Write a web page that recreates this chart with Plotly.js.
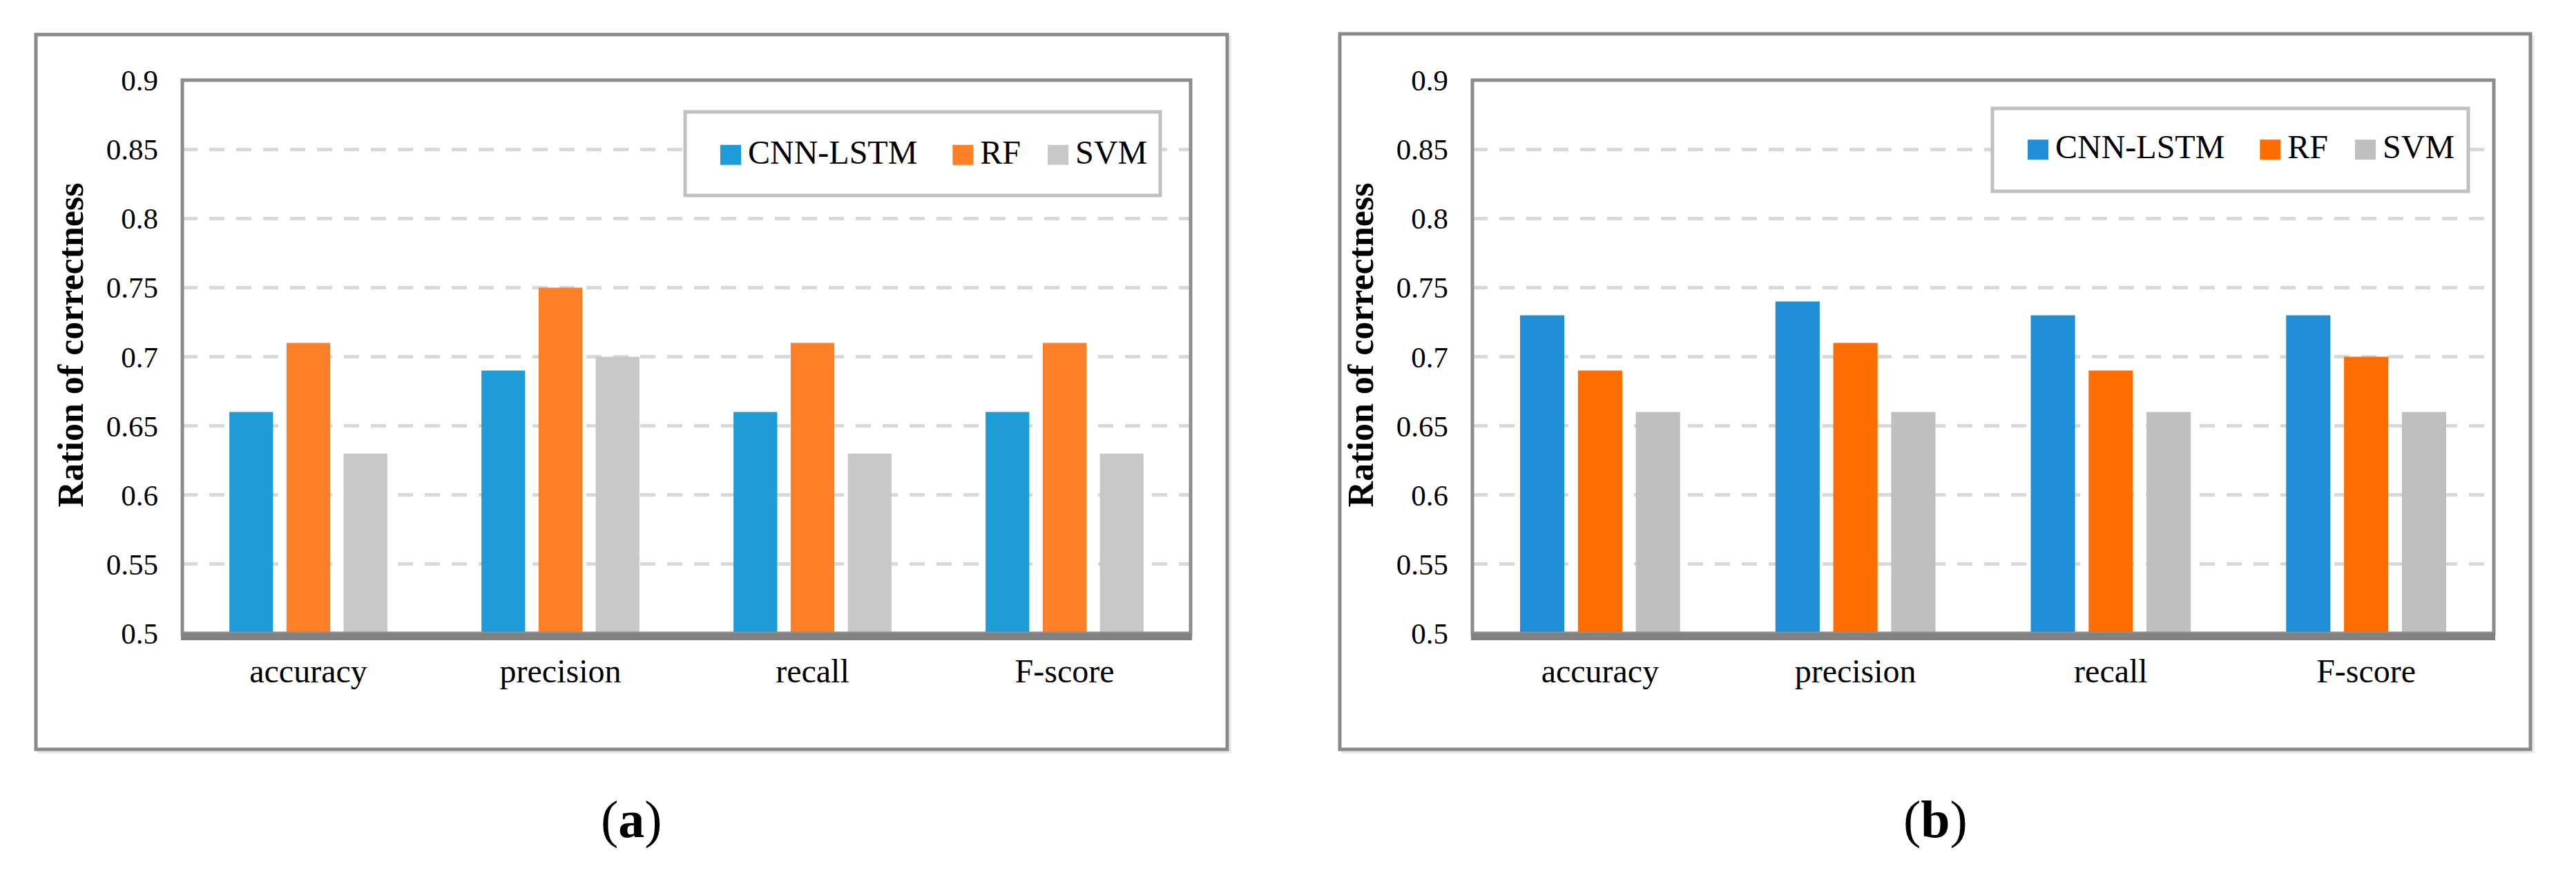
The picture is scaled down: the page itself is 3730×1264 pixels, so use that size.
<!DOCTYPE html>
<html><head><meta charset="utf-8">
<script src="https://cdn.plot.ly/plotly-3.0.1.min.js"></script>
<style>html,body{margin:0;padding:0;background:#fff}</style>
</head><body>
<div id="chart" style="width:3730px;height:1264px"></div>
<script>
// ---- data ----
const categories = ['accuracy', 'precision', 'recall', 'F-score'];
const seriesNames = ['CNN-LSTM', 'RF', 'SVM'];
const cnnA = [0.66, 0.69, 0.66, 0.66];
const rfA  = [0.71, 0.75, 0.71, 0.71];
const svmA = [0.63, 0.70, 0.63, 0.63];
const cnnB = [0.73, 0.74, 0.73, 0.73];
const rfB  = [0.69, 0.71, 0.69, 0.70];
const svmB = [0.66, 0.66, 0.66, 0.66];
const yTickVals = [0.5, 0.55, 0.6, 0.65, 0.7, 0.75, 0.8, 0.85, 0.9];
const yTickText = ['0.5', '0.55', '0.6', '0.65', '0.7', '0.75', '0.8', '0.85', '0.9'];
const yTitle = 'Ration of correctness';
const panelLabels = ['a', 'b'];

// ---- styles ----
const W = 3730, H = 1264;
const px = v => v / W;
const py = v => 1 - v / H;
const colorsA = ['#1E9CD8', '#FF7F27', '#C8C8C8'];
const colorsB = ['#208FD8', '#FF6D00', '#BFBFBF'];
const namePad = ['\u00a0\u00a0\u00a0', '\u00a0\u00a0', ''];
const FONT = '"Liberation Serif", "Times New Roman", serif';

const seriesA = [cnnA, rfA, svmA];
const seriesB = [cnnB, rfB, svmB];
const traces = [];
seriesA.forEach((vals, i) => traces.push({
  type: 'bar', x: categories, y: vals, name: seriesNames[i] + namePad[i],
  xaxis: 'x', yaxis: 'y', legend: 'legend',
  marker: {color: colorsA[i], line: {width: 0}}
}));
seriesB.forEach((vals, i) => traces.push({
  type: 'bar', x: categories, y: vals, name: seriesNames[i] + namePad[i],
  xaxis: 'x2', yaxis: 'y2', legend: 'legend2',
  marker: {color: colorsB[i], line: {width: 0}}
}));

const panels = [
  {outer: [52, 50, 1777, 1085], frame: [264, 116, 1724, 917], leg: [992, 162, 1680, 283], legX: 1033, legY: 218.5},
  {outer: [1940, 49, 3664, 1085], frame: [2132, 116, 3611, 917], leg: [2885, 157, 3574, 277], legX: 2926, legY: 211}
];

function xAxis(p, anchor) {
  return {
    domain: [px(p.frame[0]), px(p.frame[2])], anchor: anchor, type: 'category',
    showline: false, ticks: '', showgrid: false, zeroline: false, automargin: false,
    tickfont: {size: 48, family: FONT, color: '#000'}, ticklabelstandoff: 22
  };
}
function yAxis(p, anchor) {
  return {
    domain: [py(p.frame[3]), py(p.frame[1])], anchor: anchor, range: [0.5, 0.9],
    tickvals: yTickVals, ticktext: yTickText, ticks: '', automargin: false,
    tickfont: {size: 43, family: FONT, color: '#000'}, ticklabelstandoff: 34,
    showgrid: true, gridcolor: '#d9d9d9', gridwidth: 5, griddash: '22px,17px',
    zeroline: false, showline: false,
    title: {text: yTitle, font: {size: 52, family: FONT, color: '#000', weight: 'bold'}, standoff: 16}
  };
}

const shapes = [];
const annotations = [];
panels.forEach((p, k) => {
  shapes.push({type: 'rect', xref: 'paper', yref: 'paper', x0: px(p.outer[0] + 4), x1: px(p.outer[2] + 4),
    y0: py(p.outer[3] + 4), y1: py(p.outer[1] + 4), line: {color: '#ececec', width: 4}, layer: 'below'});
  shapes.push({type: 'rect', xref: 'paper', yref: 'paper', x0: px(p.outer[0]), x1: px(p.outer[2]),
    y0: py(p.outer[3]), y1: py(p.outer[1]), line: {color: '#8a8a8a', width: 5}, fillcolor: '#ffffff', layer: 'below'});
  shapes.push({type: 'rect', xref: 'paper', yref: 'paper', x0: px(p.frame[0]), x1: px(p.frame[2]),
    y0: py(p.frame[3]), y1: py(p.frame[1]), line: {color: '#8c8c8c', width: 5}, layer: 'above'});
  shapes.push({type: 'line', xref: 'paper', yref: 'paper', x0: px(p.frame[0] - 2), x1: px(p.frame[2] + 2),
    y0: py(p.frame[3] + 5), y1: py(p.frame[3] + 5), line: {color: '#808080', width: 10}, layer: 'above'});
  shapes.push({type: 'rect', xref: 'paper', yref: 'paper', x0: px(p.leg[0]), x1: px(p.leg[2]),
    y0: py(p.leg[3]), y1: py(p.leg[1]), line: {color: '#c0c0c0', width: 5}, fillcolor: '#ffffff', layer: 'above'});
  annotations.push({xref: 'paper', yref: 'paper', x: px((p.outer[0] + p.outer[2]) / 2), y: py(1186),
    xanchor: 'center', yanchor: 'middle', showarrow: false,
    text: '(<b>' + panelLabels[k] + '</b>)', font: {size: 76, family: FONT, color: '#000'}});
});

function legend(p) {
  return {orientation: 'h', xref: 'paper', yref: 'paper', x: px(p.legX), y: py(p.legY),
    xanchor: 'left', yanchor: 'middle', bgcolor: 'rgba(0,0,0,0)', borderwidth: 0,
    itemwidth: 40, traceorder: 'normal', font: {size: 48, family: FONT, color: '#000'}};
}

const layout = {
  width: W, height: H, margin: {l: 0, r: 0, t: 0, b: 0, autoexpand: false},
  paper_bgcolor: '#ffffff', plot_bgcolor: '#ffffff',
  barmode: 'group', bargap: 0.32, bargroupgap: 0.235,
  font: {family: FONT, color: '#000'},
  xaxis: xAxis(panels[0], 'y'), yaxis: yAxis(panels[0], 'x'),
  xaxis2: xAxis(panels[1], 'y2'), yaxis2: yAxis(panels[1], 'x2'),
  legend: legend(panels[0]), legend2: legend(panels[1]),
  shapes: shapes, annotations: annotations, showlegend: true
};

Plotly.newPlot('chart', traces, layout, {staticPlot: true, displayModeBar: false}).then(() => {
  document.querySelectorAll('.legendpoints path').forEach(el => {
    el.setAttribute('d', 'M15,20.5H-15V-8.5H15Z');
  });
  document.querySelectorAll('.g-ytitle, .g-y2title').forEach(g => {
    g.setAttribute('transform', 'translate(0,-17)');
  });
});
</script>
</body></html>
